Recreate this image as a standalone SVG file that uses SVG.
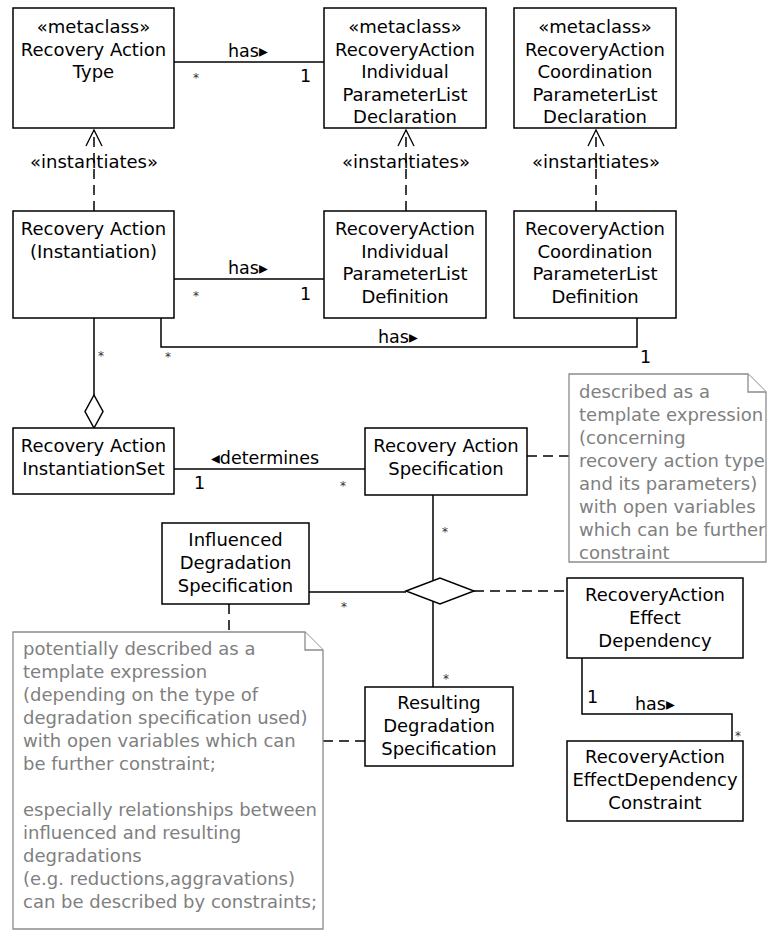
<svg xmlns="http://www.w3.org/2000/svg" width="767" height="930" viewBox="0 0 767 930">
  <style>
    .box { fill: #fff; stroke: #000; stroke-width: 1.5; }
    .note { fill: #fff; stroke: #8c8c8c; stroke-width: 1.3; }
    .t { font-family: "DejaVu Sans", sans-serif; font-size: 18px; fill: #000; text-anchor: middle; }
    .nt { font-family: "DejaVu Sans", sans-serif; font-size: 18px; fill: #808080; }
    .lbl { font-family: "DejaVu Sans", sans-serif; font-size: 17.5px; fill: #000; }
    .mult { font-family: "DejaVu Sans", sans-serif; font-size: 12px; fill: #333; }
    .line { fill: none; stroke: #000; stroke-width: 1.5; }
    .dash { fill: none; stroke: #000; stroke-width: 1.5; stroke-dasharray: 10 6; }
    .arrow { fill: none; stroke: #000; stroke-width: 1.3; }
    .diamond { fill: #fff; stroke: #000; stroke-width: 1.5; }
  </style>

  <!-- connectors -->
  <g id="connectors">
    <!-- has: Type -> Individual Declaration -->
    <line class="line" x1="174" y1="62" x2="324" y2="62"/>
    <text class="lbl" x="228" y="57">has▸</text>
    <text class="mult" x="193" y="82">*</text>
    <text class="lbl" x="300" y="82">1</text>

    <!-- has: Instantiation -> Individual Definition -->
    <line class="line" x1="174" y1="279" x2="324" y2="279"/>
    <text class="lbl" x="228" y="274">has▸</text>
    <text class="mult" x="193" y="300">*</text>
    <text class="lbl" x="300" y="300">1</text>

    <!-- instantiates dependencies -->
    <line class="dash" x1="94" y1="211" x2="94" y2="130"/>
    <polyline class="arrow" points="86,146 94,130 102,146"/>
    <text class="t" x="94" y="168">«instantiates»</text>

    <line class="dash" x1="406" y1="211" x2="406" y2="130"/>
    <polyline class="arrow" points="398,146 406,130 414,146"/>
    <text class="t" x="406" y="168">«instantiates»</text>

    <line class="dash" x1="596" y1="211" x2="596" y2="130"/>
    <polyline class="arrow" points="588,146 596,130 604,146"/>
    <text class="t" x="596" y="168">«instantiates»</text>

    <!-- aggregation: InstantiationSet <>- Instantiation -->
    <line class="line" x1="94" y1="318" x2="94" y2="395"/>
    <polygon class="diamond" points="94,395 103,411.5 94,428 85,411.5"/>
    <text class="mult" x="98" y="360">*</text>

    <!-- has: Instantiation -> Coordination Definition -->
    <polyline class="line" points="161,318 161,347 637,347 637,318"/>
    <text class="lbl" x="378" y="343">has▸</text>
    <text class="mult" x="165" y="361">*</text>
    <text class="lbl" x="640" y="363">1</text>

    <!-- determines -->
    <line class="line" x1="174" y1="469" x2="365" y2="469"/>
    <text class="lbl" x="211" y="464">◂determines</text>
    <text class="lbl" x="194" y="489">1</text>
    <text class="mult" x="340" y="490">*</text>

    <!-- note anchors -->
    <line class="dash" x1="527" y1="456" x2="569" y2="456"/>
    <line class="dash" x1="229" y1="604" x2="229" y2="632"/>
    <line class="dash" x1="323" y1="741" x2="365" y2="741"/>

    <!-- n-ary association -->
    <line class="line" x1="433" y1="495" x2="433" y2="687"/>
    <line class="line" x1="309" y1="592" x2="406" y2="592"/>
    <line class="dash" x1="474" y1="591" x2="567" y2="591"/>
    <polygon class="diamond" points="406,591 440,578 474,591 440,604"/>
    <text class="mult" x="442" y="536">*</text>
    <text class="mult" x="341" y="611">*</text>
    <text class="mult" x="443" y="683">*</text>

    <!-- has: EffectDependency -> Constraint -->
    <polyline class="line" points="582,658 582,714 732,714 732,741"/>
    <text class="lbl" x="635" y="710">has▸</text>
    <text class="lbl" x="587" y="703">1</text>
    <text class="mult" x="735" y="740">*</text>
  </g>

  <!-- classes -->
  <g id="recovery-action-type">
    <rect class="box" x="13" y="8" width="161" height="120"/>
    <text class="t" x="93.5" y="33">«metaclass»</text>
    <text class="t" x="93.5" y="55.5">Recovery Action</text>
    <text class="t" x="93.5" y="78">Type</text>
  </g>

  <g id="individual-parameterlist-declaration">
    <rect class="box" x="324" y="8" width="162" height="120"/>
    <text class="t" x="405" y="33">«metaclass»</text>
    <text class="t" x="405" y="55.5">RecoveryAction</text>
    <text class="t" x="405" y="78">Individual</text>
    <text class="t" x="405" y="100.5">ParameterList</text>
    <text class="t" x="405" y="123">Declaration</text>
  </g>

  <g id="coordination-parameterlist-declaration">
    <rect class="box" x="514" y="8" width="162" height="120"/>
    <text class="t" x="595" y="33">«metaclass»</text>
    <text class="t" x="595" y="55.5">RecoveryAction</text>
    <text class="t" x="595" y="78">Coordination</text>
    <text class="t" x="595" y="100.5">ParameterList</text>
    <text class="t" x="595" y="123">Declaration</text>
  </g>

  <g id="recovery-action-instantiation">
    <rect class="box" x="13" y="211" width="161" height="107"/>
    <text class="t" x="93.5" y="235">Recovery Action</text>
    <text class="t" x="93.5" y="258">(Instantiation)</text>
  </g>

  <g id="individual-parameterlist-definition">
    <rect class="box" x="324" y="211" width="162" height="107"/>
    <text class="t" x="405" y="235">RecoveryAction</text>
    <text class="t" x="405" y="257.5">Individual</text>
    <text class="t" x="405" y="280">ParameterList</text>
    <text class="t" x="405" y="303">Definition</text>
  </g>

  <g id="coordination-parameterlist-definition">
    <rect class="box" x="514" y="211" width="162" height="107"/>
    <text class="t" x="595" y="235">RecoveryAction</text>
    <text class="t" x="595" y="257.5">Coordination</text>
    <text class="t" x="595" y="280">ParameterList</text>
    <text class="t" x="595" y="303">Definition</text>
  </g>

  <g id="recovery-action-instantiationset">
    <rect class="box" x="13" y="428" width="161" height="66"/>
    <text class="t" x="93.5" y="452">Recovery Action</text>
    <text class="t" x="93.5" y="475">InstantiationSet</text>
  </g>

  <g id="recovery-action-specification">
    <rect class="box" x="365" y="428" width="162" height="67"/>
    <text class="t" x="446" y="452">Recovery Action</text>
    <text class="t" x="446" y="475">Specification</text>
  </g>

  <g id="influenced-degradation-specification">
    <rect class="box" x="162" y="523" width="147" height="81"/>
    <text class="t" x="235.5" y="546">Influenced</text>
    <text class="t" x="235.5" y="569">Degradation</text>
    <text class="t" x="235.5" y="592">Specification</text>
  </g>

  <g id="resulting-degradation-specification">
    <rect class="box" x="365" y="687" width="148" height="79"/>
    <text class="t" x="439" y="709">Resulting</text>
    <text class="t" x="439" y="732">Degradation</text>
    <text class="t" x="439" y="755">Specification</text>
  </g>

  <g id="recoveryaction-effect-dependency">
    <rect class="box" x="567" y="578" width="176" height="80"/>
    <text class="t" x="655" y="601">RecoveryAction</text>
    <text class="t" x="655" y="624">Effect</text>
    <text class="t" x="655" y="647">Dependency</text>
  </g>

  <g id="recoveryaction-effectdependency-constraint">
    <rect class="box" x="567" y="741" width="176" height="80"/>
    <text class="t" x="655" y="763">RecoveryAction</text>
    <text class="t" x="655" y="786">EffectDependency</text>
    <text class="t" x="655" y="809">Constraint</text>
  </g>

  <!-- notes -->
  <g id="note-specification">
    <polygon class="note" points="569,374 748,374 766,392 766,562 569,562"/>
    <polyline class="note" points="748,374 748,392 766,392"/>
    <text class="nt" x="579" y="398">described as a</text>
    <text class="nt" x="579" y="421">template expression</text>
    <text class="nt" x="579" y="444">(concerning</text>
    <text class="nt" x="579" y="466.5">recovery action type</text>
    <text class="nt" x="579" y="489.5">and its parameters)</text>
    <text class="nt" x="579" y="513">with open variables</text>
    <text class="nt" x="579" y="536">which can be further</text>
    <text class="nt" x="579" y="559">constraint</text>
  </g>

  <g id="note-degradation">
    <polygon class="note" points="13,632 305,632 323,650 323,929 13,929"/>
    <polyline class="note" points="305,632 305,650 323,650"/>
    <text class="nt" x="23" y="655">potentially described as a</text>
    <text class="nt" x="23" y="678">template expression</text>
    <text class="nt" x="23" y="701">(depending on the type of</text>
    <text class="nt" x="23" y="724">degradation specification used)</text>
    <text class="nt" x="23" y="746.5">with open variables which can</text>
    <text class="nt" x="23" y="769.5">be further constraint;</text>
    <text class="nt" x="23" y="816">especially relationships between</text>
    <text class="nt" x="23" y="839">influenced and resulting</text>
    <text class="nt" x="23" y="861.5">degradations</text>
    <text class="nt" x="23" y="884.5">(e.g. reductions,aggravations)</text>
    <text class="nt" x="23" y="907.5">can be described by constraints;</text>
  </g>
</svg>
